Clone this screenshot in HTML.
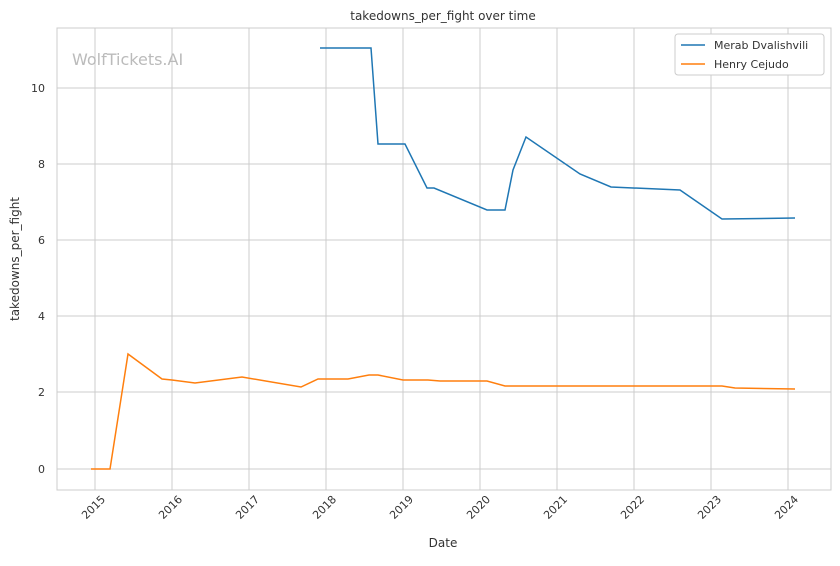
<!DOCTYPE html>
<html><head><meta charset="utf-8"><style>
body{margin:0;background:#fff;font-family:"Liberation Sans","DejaVu Sans",sans-serif;}
</style></head><body>
<svg width="840" height="561" xmlns="http://www.w3.org/2000/svg" font-family="DejaVu Sans, Liberation Sans, sans-serif">
<rect width="840" height="561" fill="#fff"/>
<g stroke="#cccccc" stroke-width="1">
<line x1="95" y1="28" x2="95" y2="490"/><line x1="172" y1="28" x2="172" y2="490"/><line x1="249" y1="28" x2="249" y2="490"/><line x1="326" y1="28" x2="326" y2="490"/><line x1="403" y1="28" x2="403" y2="490"/><line x1="480" y1="28" x2="480" y2="490"/><line x1="557" y1="28" x2="557" y2="490"/><line x1="634" y1="28" x2="634" y2="490"/><line x1="711" y1="28" x2="711" y2="490"/><line x1="788" y1="28" x2="788" y2="490"/>
<line x1="57" y1="469" x2="831" y2="469"/><line x1="57" y1="392" x2="831" y2="392"/><line x1="57" y1="316" x2="831" y2="316"/><line x1="57" y1="240" x2="831" y2="240"/><line x1="57" y1="164" x2="831" y2="164"/><line x1="57" y1="88" x2="831" y2="88"/>
</g>
<rect x="57" y="28" width="774" height="462" fill="none" stroke="#cccccc" stroke-width="1"/>
<text x="72" y="65" font-size="16" fill="#bbbbbb">WolfTickets.AI</text>
<polyline fill="none" stroke="#1f77b4" stroke-width="1.5" points="320,48 371,48 378,144 405,144 427,188 434,188 487,210 505,210 513,170 526,137 580,174 611,187 680,190 722,219 795,218"/>
<polyline fill="none" stroke="#ff7f0e" stroke-width="1.5" points="91,469 110,469 128,354 162,379 172,380 195,383 242,377 301,387 318,379 348,379 369,375 378,375 403,380 428,380 440,381 487,381 505,386 722,386 735,388 795,389"/>
<g font-size="11" fill="#333" text-anchor="end">
<text x="45" y="473">0</text><text x="45" y="396">2</text><text x="45" y="320">4</text><text x="45" y="244">6</text><text x="45" y="168">8</text><text x="45" y="92">10</text>
</g>
<g font-size="11" fill="#333" text-anchor="end">
<text transform="translate(106,500) rotate(-45)">2015</text><text transform="translate(183,500) rotate(-45)">2016</text><text transform="translate(260,500) rotate(-45)">2017</text><text transform="translate(337,500) rotate(-45)">2018</text><text transform="translate(414,500) rotate(-45)">2019</text><text transform="translate(491,500) rotate(-45)">2020</text><text transform="translate(568,500) rotate(-45)">2021</text><text transform="translate(645,500) rotate(-45)">2022</text><text transform="translate(722,500) rotate(-45)">2023</text><text transform="translate(799,500) rotate(-45)">2024</text>
</g>
<text x="443" y="547" font-size="12" fill="#333" text-anchor="middle">Date</text>
<text transform="translate(19,259) rotate(-90)" font-size="12" fill="#333" text-anchor="middle">takedowns_per_fight</text>
<text x="443" y="20" font-size="12" fill="#333" text-anchor="middle">takedowns_per_fight over time</text>
<rect x="675" y="34" width="149" height="41" rx="3" fill="#fff" stroke="#cccccc"/>
<line x1="681" y1="45" x2="705" y2="45" stroke="#1f77b4" stroke-width="1.5"/>
<line x1="681" y1="64" x2="705" y2="64" stroke="#ff7f0e" stroke-width="1.5"/>
<text x="714" y="49" font-size="11" fill="#333">Merab Dvalishvili</text>
<text x="714" y="68" font-size="11" fill="#333">Henry Cejudo</text>
</svg>
</body></html>
